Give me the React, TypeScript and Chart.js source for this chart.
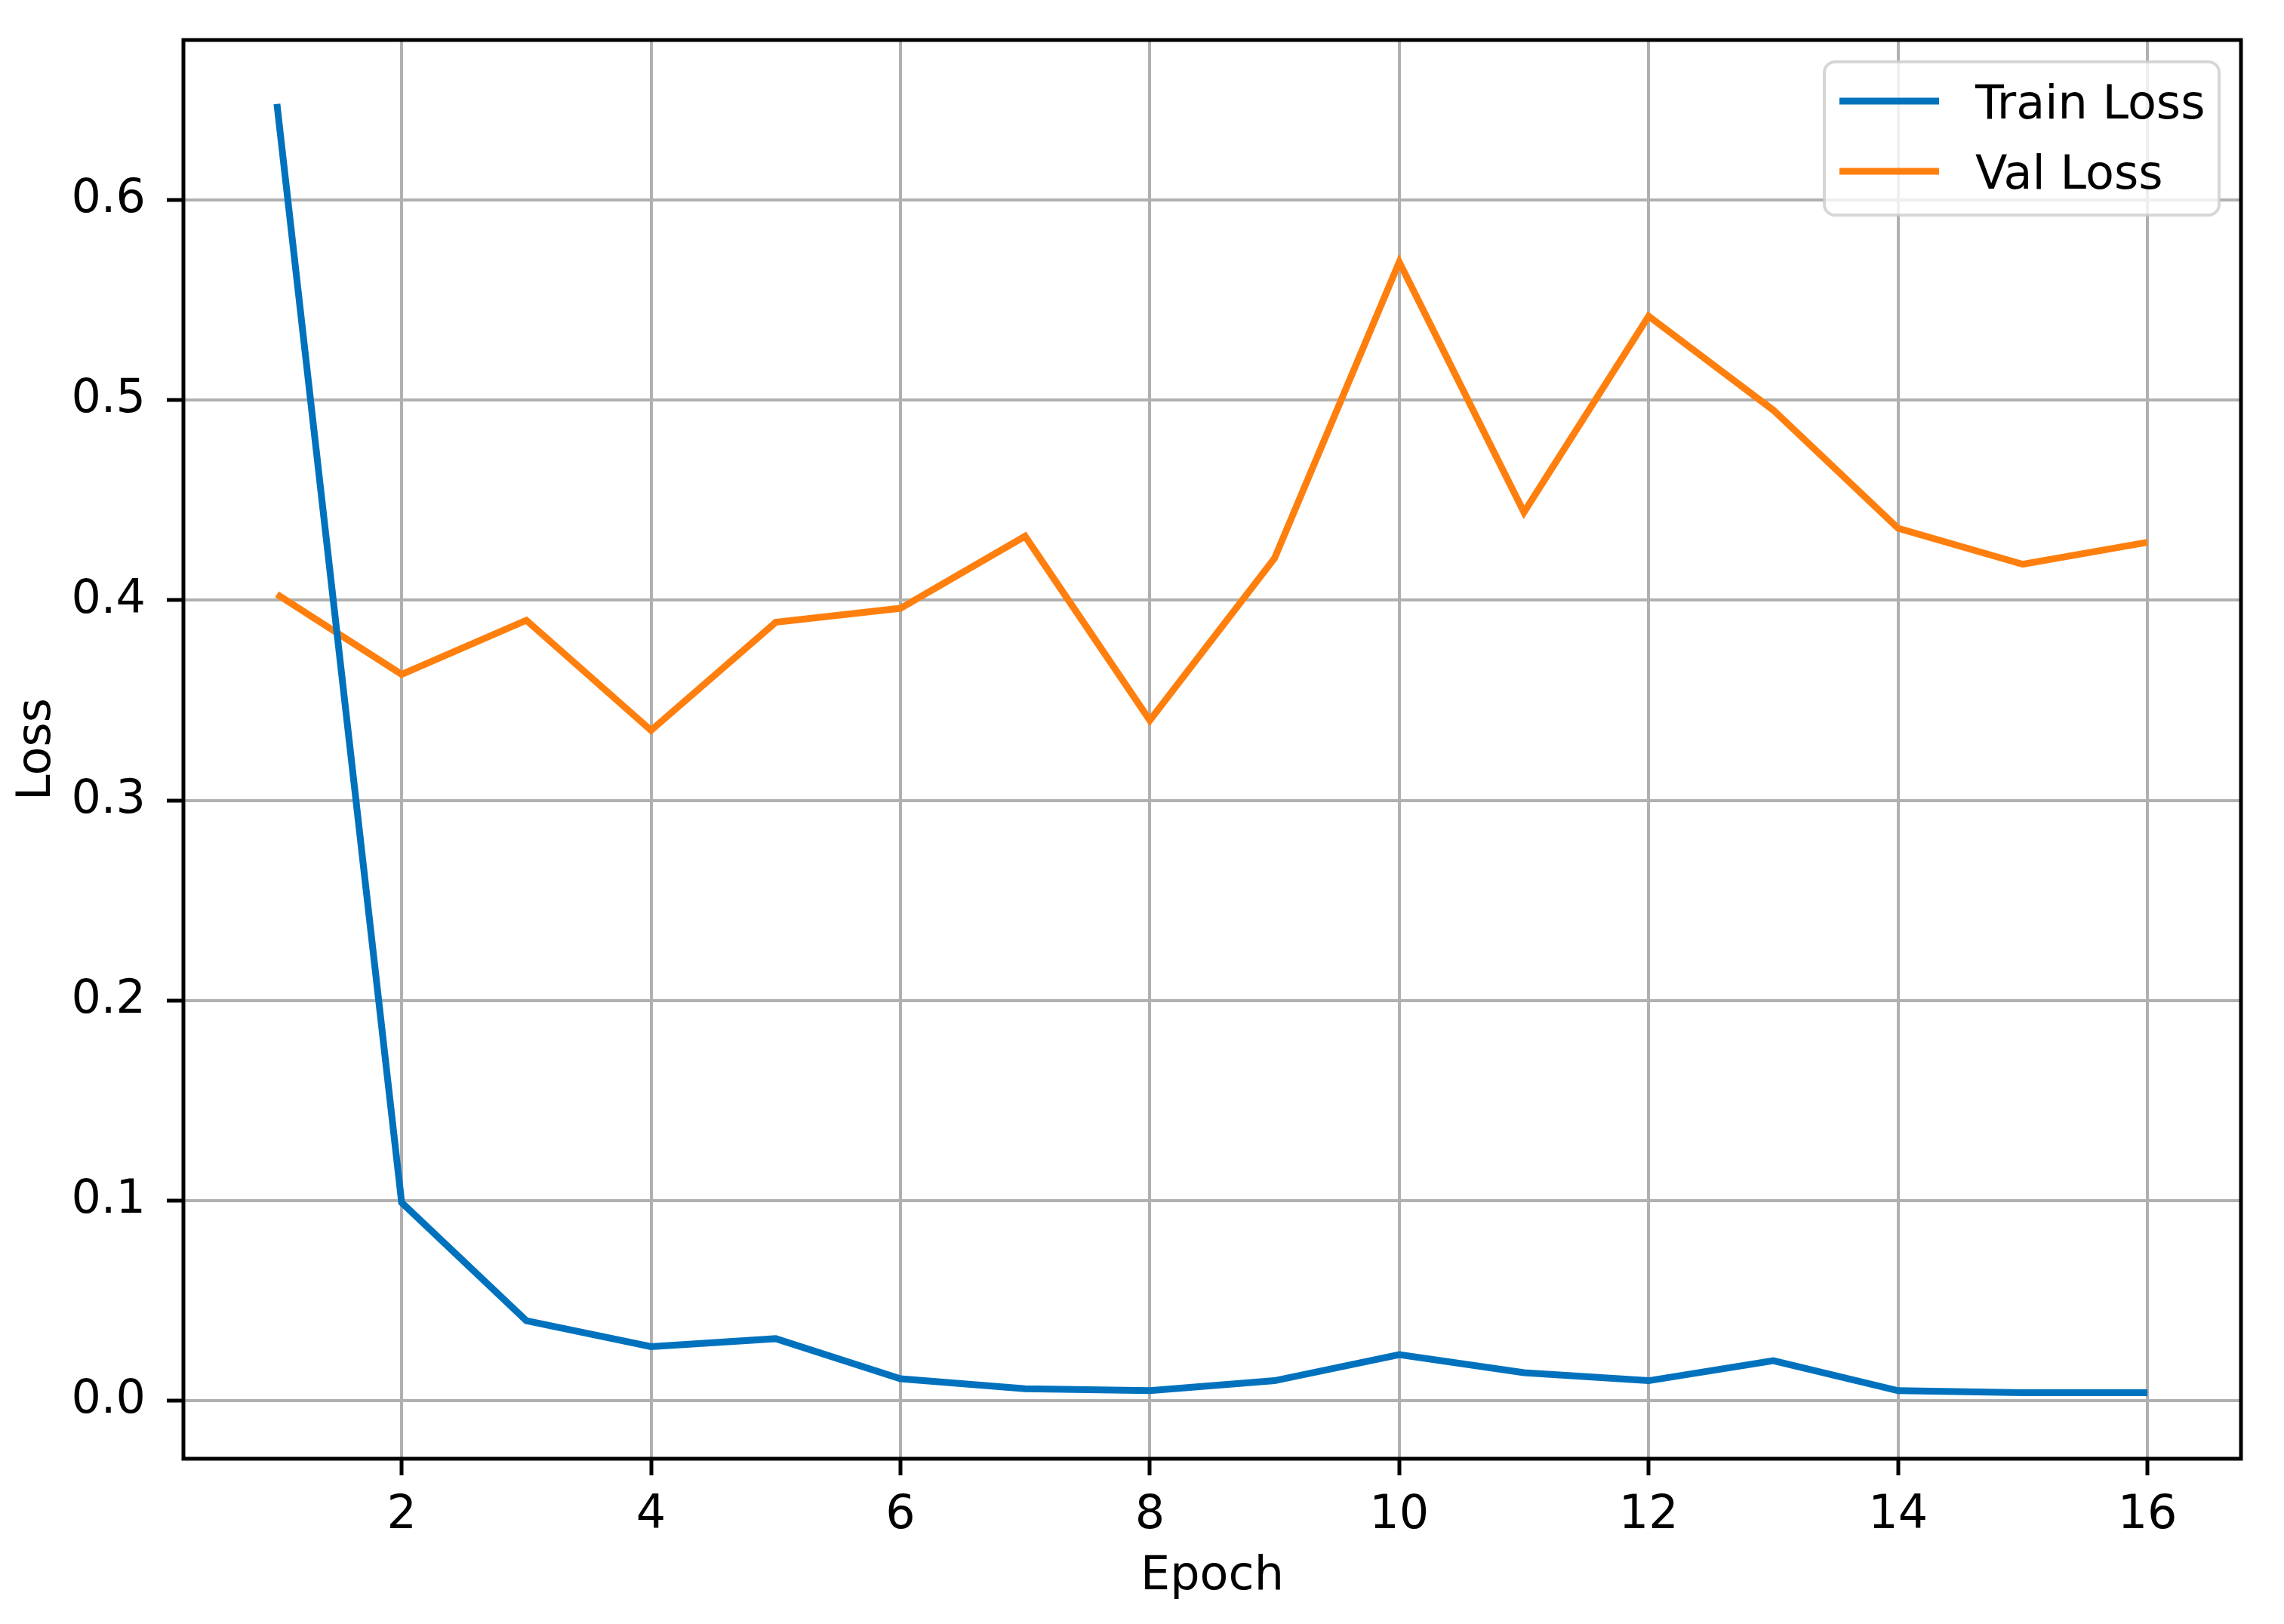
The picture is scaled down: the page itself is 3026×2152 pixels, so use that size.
import React, { useEffect, useRef } from 'react';
import { Chart, ChartConfiguration, Plugin, registerables } from 'chart.js';

Chart.register(...registerables);

// data
const epochs = [1, 2, 3, 4, 5, 6, 7, 8, 9, 10, 11, 12, 13, 14, 15, 16];
const trainLoss = [0.648, 0.099, 0.04, 0.027, 0.031, 0.011, 0.006, 0.005, 0.01, 0.023, 0.014, 0.01, 0.02, 0.005, 0.004, 0.004];
const valLoss = [0.403, 0.363, 0.39, 0.335, 0.389, 0.396, 0.432, 0.34, 0.421, 0.569, 0.444, 0.542, 0.495, 0.436, 0.418, 0.429];
const seriesLabels = ['Train Loss', 'Val Loss'];
const seriesColors = ['#0072bd', '#ff7f0e'];
const xTicks = [2, 4, 6, 8, 10, 12, 14, 16];
const yTicks = [0, 0.1, 0.2, 0.3, 0.4, 0.5, 0.6];

const W = 3026;
const H = 2152;
const FONT = 'DejaVu Sans';
const FONT_SIZE = 62;

// axes frame on all four sides + matplotlib style legend box in the upper right
const frameLegendPlugin: Plugin = {
  id: 'frameLegend',
  afterDatasetsDraw(chart) {
    const { ctx, chartArea } = chart;
    ctx.save();
    ctx.strokeStyle = '#000';
    ctx.lineWidth = 5;
    ctx.strokeRect(chartArea.left, chartArea.top, chartArea.right - chartArea.left, chartArea.bottom - chartArea.top);

    const boxW = 523;
    const boxH = 203;
    const boxX = chartArea.right - 29 - boxW;
    const boxY = chartArea.top + 29;
    ctx.beginPath();
    ctx.roundRect(boxX, boxY, boxW, boxH, 14);
    ctx.fillStyle = 'rgba(255,255,255,0.8)';
    ctx.fill();
    ctx.strokeStyle = 'rgba(204,204,204,0.8)';
    ctx.lineWidth = 4;
    ctx.stroke();

    ctx.font = `${FONT_SIZE}px "${FONT}"`;
    ctx.textBaseline = 'alphabetic';
    ctx.textAlign = 'left';
    chart.data.datasets.forEach((ds, i) => {
      const rowY = boxY + 52 + i * 93;
      ctx.beginPath();
      ctx.moveTo(boxX + 20, rowY);
      ctx.lineTo(boxX + 152, rowY);
      ctx.strokeStyle = ds.borderColor as string;
      ctx.lineWidth = 9;
      ctx.lineCap = 'butt';
      ctx.stroke();
      ctx.fillStyle = '#000';
      ctx.fillText(ds.label ?? '', boxX + 200, rowY + 23);
    });
    ctx.restore();
  }
};

const LossChart: React.FC = () => {
  const canvasRef = useRef<HTMLCanvasElement>(null);
  const chartRef = useRef<Chart | null>(null);

  useEffect(() => {
    if (!canvasRef.current) return;
    if (chartRef.current) chartRef.current.destroy();

    const config: ChartConfiguration<'line'> = {
      type: 'line',
      data: {
        datasets: [trainLoss, valLoss].map((values, i) => ({
          label: seriesLabels[i],
          data: epochs.map((e, j) => ({ x: e, y: values[j] })),
          borderColor: seriesColors[i],
          backgroundColor: seriesColors[i],
          borderWidth: 9,
          pointRadius: 0,
          tension: 0,
          fill: false
        }))
      },
      options: {
        responsive: false,
        devicePixelRatio: 1,
        animation: false,
        layout: { padding: { top: 53, right: 57, left: 0, bottom: 0 } },
        plugins: {
          legend: { display: false },
          tooltip: { enabled: false }
        },
        scales: {
          x: {
            type: 'linear',
            min: 0.25,
            max: 16.75,
            afterBuildTicks: (scale) => {
              scale.ticks = xTicks.map((v) => ({ value: v }));
            },
            afterFit: (scale) => {
              scale.height = 219;
              scale.paddingLeft = 0;
              scale.paddingRight = 0;
            },
            grid: {
              color: '#b0b0b0',
              lineWidth: 4,
              tickColor: '#000',
              tickWidth: 5,
              tickLength: 22
            },
            border: { display: false },
            ticks: {
              color: '#000',
              padding: 17,
              maxRotation: 0,
              font: { family: FONT, size: FONT_SIZE },
              callback: (v) => String(v)
            },
            title: {
              display: true,
              text: 'Epoch',
              color: '#000',
              font: { family: FONT, size: FONT_SIZE },
              padding: { top: 0, bottom: 25 }
            }
          },
          y: {
            type: 'linear',
            min: -0.029,
            max: 0.68,
            afterBuildTicks: (scale) => {
              scale.ticks = yTicks.map((v) => ({ value: v }));
            },
            afterFit: (scale) => {
              scale.width = 243;
              // keep tick label overhang from pushing the plot area down
              scale.paddingTop = 0;
              scale.paddingBottom = 0;
            },
            grid: {
              color: '#b0b0b0',
              lineWidth: 4,
              tickColor: '#000',
              tickWidth: 5,
              tickLength: 22
            },
            border: { display: false },
            ticks: {
              color: '#000',
              padding: 28,
              font: { family: FONT, size: FONT_SIZE },
              callback: (v) => Number(v).toFixed(1)
            },
            title: {
              display: true,
              text: 'Loss',
              color: '#000',
              font: { family: FONT, size: FONT_SIZE },
              padding: { top: 13, bottom: 0 }
            }
          }
        }
      },
      plugins: [frameLegendPlugin]
    };

    chartRef.current = new Chart(canvasRef.current, config);

    return () => {
      if (chartRef.current) {
        chartRef.current.destroy();
        chartRef.current = null;
      }
    };
  }, []);

  return (
    <div style={{ position: 'absolute', left: 0, top: 0, width: W, height: H, background: '#fff' }}>
      <canvas ref={canvasRef} width={W} height={H} />
    </div>
  );
};

export default function App() {
  return <LossChart />;
}
